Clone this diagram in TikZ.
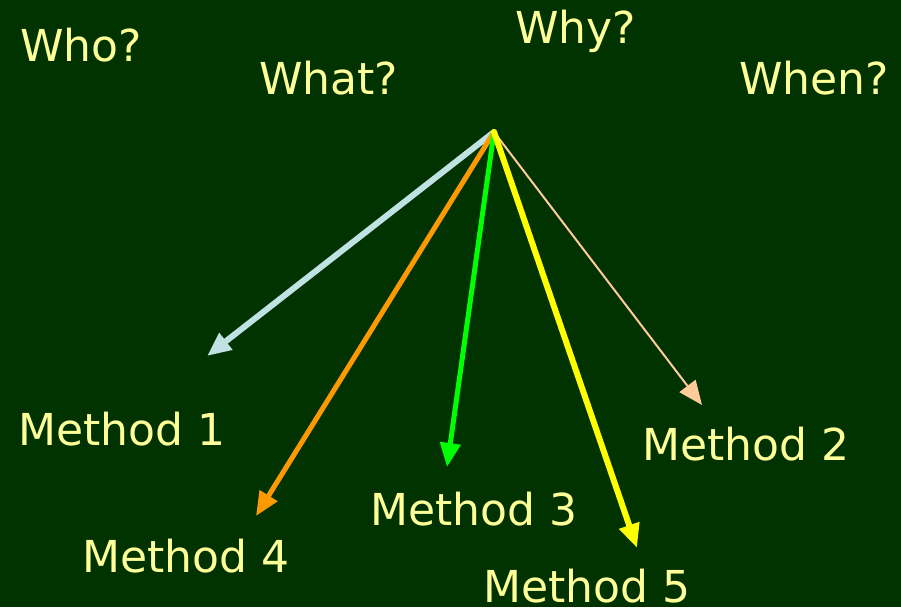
\documentclass[tikz,border=0pt]{standalone}
\usepackage{fontspec}
\setmainfont{DejaVu Sans}
\usetikzlibrary{arrows.meta}
\definecolor{bg}{HTML}{003300}
\definecolor{txt}{HTML}{FFFF99}
\definecolor{lblue}{HTML}{C0E2E2}
\definecolor{orng}{HTML}{FF9900}
\definecolor{grn}{HTML}{00FF00}
\definecolor{yel}{HTML}{FFFF00}
\definecolor{peach}{HTML}{FFCC99}
\tikzset{
  lbl/.style={anchor=base west, inner sep=0pt, text=txt, font=\fontsize{44}{52}\selectfont},
  arr/.style={-{Triangle[length=24pt,width=20pt]}, line cap=round}
}
\begin{document}
\begin{tikzpicture}[x=1pt,y=-1pt]
\fill[bg] (0,0) rectangle (901,607);
\useasboundingbox (0,0) rectangle (901,607);
\node[lbl] (who) at (20,62) {Who?};
\node[lbl] (what) at (259,95) {What?};
\node[lbl] (why) at (515,44) {Why?};
\node[lbl] (when) at (739,95) {When?};
\node[lbl] (m1) at (18,445) {Method 1};
\node[lbl] (m2) at (642,460) {Method 2};
\node[lbl] (m3) at (370,525) {Method 3};
\node[lbl] (m4) at (82,572) {Method 4};
\node[lbl] (m5) at (483,602) {Method 5};
\coordinate (o) at (494,132);
\coordinate (e1) at (207,356);
\coordinate (e2) at (702,405);
\coordinate (e3) at (447,467);
\coordinate (e4) at (256,516);
\coordinate (e5) at (637,548);
\draw[arr, lblue, line width=6pt] (o) -- (e1);
\draw[arr, peach, line width=2pt] (o) -- (e2);
\draw[arr, orng, line width=5pt] (o) -- (e4);
\draw[arr, grn, line width=5pt] (o) -- (e3);
\draw[arr, yel, line width=6pt] (o) -- (e5);
\end{tikzpicture}
\end{document}
